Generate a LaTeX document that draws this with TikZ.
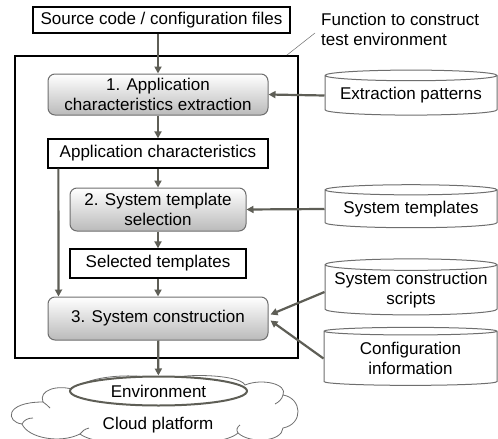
\documentclass[tikz,border=0pt]{standalone}
\usepackage{fontspec}
\setmainfont{Liberation Sans}
\usetikzlibrary{shapes.geometric,arrows.meta,calc}
\definecolor{arr}{HTML}{5E5E56}
\definecolor{bord}{HTML}{6E6E6E}
\begin{document}
\begin{tikzpicture}[x=1pt,y=-1pt,font=\fontsize{17}{20}\selectfont,
  plainbox/.style={draw=black,line width=1.3pt,fill=white,inner sep=0pt},
  stepbox/.style={draw=bord,line width=1pt,rounded corners=7pt,top color=white,bottom color=black!27,align=center,inner sep=0pt},
  cyl/.style={cylinder,shape border rotate=90,draw=bord,line width=1pt,fill=white,aspect=0.075,align=center,inner sep=0pt},
  flow/.style={draw=arr,line width=2.2pt,-{Triangle[length=7pt,width=7pt]}},
  leader/.style={draw=bord,line width=0.5pt},
  cloudline/.style={draw=bord,line width=0.8pt}]
\useasboundingbox (0,0) rectangle (498,439);
\node[plainbox,minimum width=257,minimum height=26] (src) at (161.5,20) {Source code / configuration files};
\node[draw=black,line width=1.8pt,minimum width=283,minimum height=302,inner sep=0pt] (frame) at (156.5,207) {};
\node[stepbox,minimum width=220,minimum height=41] (s1) at (158,94.5) {1. Application\\characteristics extraction};
\node[plainbox,minimum width=220,minimum height=29] (appc) at (158,153.5) {Application characteristics};
\node[stepbox,minimum width=176,minimum height=43] (s2) at (158,209.5) {2. System template\\selection};
\node[plainbox,minimum width=176,minimum height=29] (sel) at (158,263.5) {Selected templates};
\node[stepbox,minimum width=220,minimum height=43] (s3) at (158,318.5) {3. System construction};
\node[cyl,minimum width=172,minimum height=45] (ext) at (411,95.5) {Extraction patterns};
\node[cyl,minimum width=172,minimum height=43] (tmpl) at (411,209) {System templates};
\node[cyl,minimum width=172,minimum height=56] (scr) at (411,290) {System construction\\scripts};
\node[cyl,minimum width=173,minimum height=58] (cfg) at (410.5,358.5) {Configuration\\information};
% cloud outline
\draw[cloudline,fill=white] (22,424)
  .. controls (6,422) and (4,402) .. (43,402)
  .. controls (38,390) and (58,384) .. (75,390)
  .. controls (85,374) and (150,372) .. (160,382)
  .. controls (175,372) and (240,374) .. (245,385)
  .. controls (262,378) and (288,384) .. (283,395)
  .. controls (302,398) and (304,424) .. (283,428)
  .. controls (282,442) and (250,444) .. (238,433)
  .. controls (220,450) and (100,450) .. (80,434)
  .. controls (60,444) and (28,438) .. (22,424) -- cycle;
\draw[cloudline] (22,424) .. controls (24,420) and (28,418) .. (33,418);
\draw[cloudline] (43,402) .. controls (46,404) and (48,406) .. (50,408);
\draw[cloudline] (283,395) .. controls (282,399) and (279,402) .. (275,404);
\draw[cloudline] (238,433) .. controls (236,430) and (237,427) .. (240,425);
\draw[cloudline] (80,434) .. controls (82,431) and (85,429) .. (89,428);
\node[ellipse,draw=arr,line width=2pt,fill=white,minimum width=177,minimum height=29,inner sep=0pt] (env) at (158.5,391) {Environment};
\node (cp) at (158,425) {Cloud platform};
\node[anchor=north west,align=left,inner sep=0pt] (fn) at (321,13) {Function to construct\\test environment};
\coordinate (fnl) at (315,33);
\draw[leader] ($(frame.north east)+(-12,0)$) -- (fnl);
\draw[flow] (s1.north |- src.south) -- (s1.north);
\draw[flow] (s1) -- (appc);
\draw[flow] (appc) -- (s2);
\draw[flow] (s2) -- (sel);
\draw[flow] (sel) -- (s3);
\draw[flow] ($(appc.south west)+(11,0)$) -- ($(s3.north west)+(11,0)$);
\draw[flow] (ext.west) -- (s1.east);
\draw[flow] (tmpl.west) -- (s2.east);
\draw[flow] ($(scr.west)+(0,2)$) -- ($(s3.east)+(2,-4)$);
\draw[flow] (cfg.west) -- ($(s3.east)+(2,2)$);
\draw[flow] (s3) -- (env);
\end{tikzpicture}
\end{document}
